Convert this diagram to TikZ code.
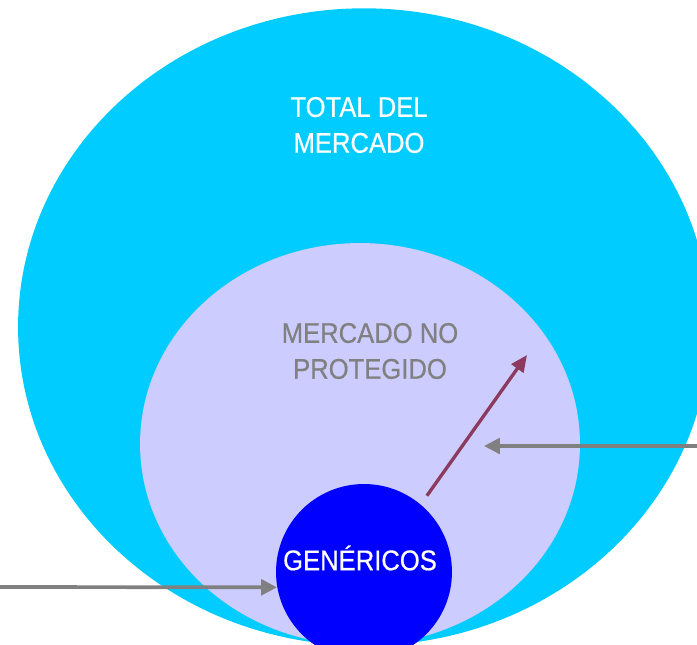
\documentclass[tikz,border=0pt]{standalone}
\usepackage{fontspec}
\setmainfont[FakeStretch=0.9, FakeBold=0.5]{Liberation Sans}
\usepackage{xcolor}
\usepackage{tikz}
\usetikzlibrary{shapes.geometric, arrows.meta}

\definecolor{cielo}{HTML}{00CCFF}
\definecolor{lavanda}{HTML}{CCCCFF}
\definecolor{azul}{HTML}{0000FF}
\definecolor{gris}{HTML}{808080}
\definecolor{granate}{HTML}{8C3A5E}

\tikzset{
  zona/.style={ellipse, inner sep=0pt},
  rotulo/.style={align=center, font=\fontsize{16.2}{20.4}\selectfont},
  flechagris/.style={draw=gris, line width=2.1pt, -{Triangle[length=9pt, width=8.8pt]}},
  flechagranate/.style={draw=granate, line width=1.9pt, -{Triangle[length=9.5pt, width=8.2pt]}}
}

\begin{document}
\begin{tikzpicture}[x=0.02cm, y=-0.02cm]
\useasboundingbox (0,0) rectangle (697,645);
\clip (0,0) rectangle (697,645);

\node[zona, fill=cielo, minimum width=13.84cm, minimum height=12.75cm] (total) at (364, 327) {};
\node[zona, fill=lavanda, minimum width=8.8cm, minimum height=8.04cm] (noprot) at (360, 444) {};
\node[circle, fill=azul, inner sep=0pt, minimum size=3.52cm] (gen) at (364, 572) {};

\node[rotulo, text=white] (ttotal) at (359, 125) {TOTAL DEL\\MERCADO};
\node[rotulo, text=gris] (tnoprot) at (370, 351) {MERCADO NO\\PROTEGIDO};
\node[rotulo, text=white] (tgen) at (360, 558) {GENÉRICOS};

\coordinate (izq) at (0, 587);
\coordinate (der) at (697, 446);
\coordinate (punta) at (484, 446);
\coordinate (crece) at (527, 355);

\draw[flechagris] (izq) -- (gen.190);
\draw[flechagris] (der) -- (punta);
\draw[flechagranate, shorten <=6pt] (gen.50) -- (crece);
\end{tikzpicture}
\end{document}
